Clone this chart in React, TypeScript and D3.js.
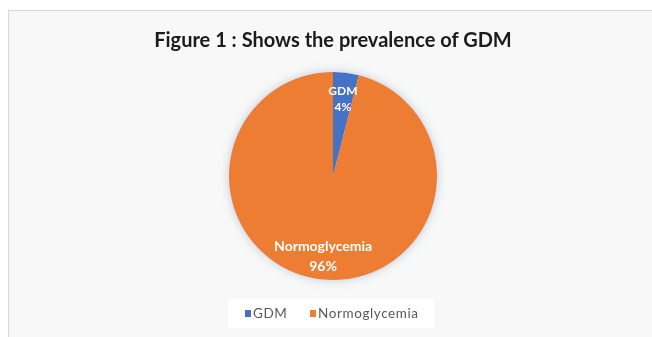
import React from "react";
import * as d3 from "d3";

const categories = ["GDM", "Normoglycemia"];
const values = [4, 96];
const colors = ["#4472C4", "#ED7D31"];
const title = "Figure 1 : Shows the prevalence of GDM";

const W = 652;
const H = 337;

export default function App() {
  const cx = 333;
  const cy = 176;
  const r = 104;

  const pie = d3.pie<number>().sort(null).value((d) => d);
  const arcs = pie(values);
  const arcGen = d3.arc<d3.PieArcDatum<number>>().innerRadius(0).outerRadius(r);

  // label positions: GDM near the rim, Normoglycemia lower in its slice
  const labelArcs = [
    d3.arc<d3.PieArcDatum<number>>().innerRadius(r * 0.76).outerRadius(r * 0.76),
    d3.arc<d3.PieArcDatum<number>>().innerRadius(r * 0.76).outerRadius(r * 0.76),
  ];

  const legendItems = [
    { x: 245, w: 36 },
    { x: 310, w: 118 },
  ];

  return (
    <svg
      width={W}
      height={H}
      style={{ position: "fixed", left: 0, top: 0, display: "block" }}
      fontFamily="Lato, 'Open Sans', sans-serif"
    >
      <defs>
        <filter id="pieShadow" x="-30%" y="-30%" width="160%" height="160%">
          <feGaussianBlur in="SourceAlpha" stdDeviation="5" result="blur" />
          <feFlood floodColor="#b8c6d6" floodOpacity="0.9" />
          <feComposite in2="blur" operator="in" result="shadow" />
          <feMerge>
            <feMergeNode in="shadow" />
            <feMergeNode in="SourceGraphic" />
          </feMerge>
        </filter>
        <filter id="soft">
          <feGaussianBlur stdDeviation="0.4" />
        </filter>
      </defs>
      <rect x={0} y={0} width={W} height={H} fill="#ffffff" />
      <rect x={8.5} y={10.5} width={W + 10} height={H} fill="#f8f8f8" stroke="#d9d9d9" strokeWidth={1} />

      <g filter="url(#soft)">
        <text
          x={333}
          y={47}
          textAnchor="middle"
          fontSize={20}
          fontWeight={700}
          fill="#1a1a1a"
        >
          {title}
        </text>

        <g transform={`translate(${cx},${cy})`} filter="url(#pieShadow)">
          {arcs.map((a, i) => (
            <path key={categories[i]} d={arcGen(a) || ""} fill={colors[i]} />
          ))}
        </g>

        <g transform={`translate(${cx},${cy})`}>
          {arcs.map((a, i) => {
            const [lx, ly] = labelArcs[i].centroid(a);
            return (
              <text
                key={categories[i]}
                x={lx}
                y={ly}
                textAnchor="middle"
                fill="#ffffff"
                fontWeight={700}
                fontSize={i === 0 ? 12 : 14}
              >
                <tspan x={lx} dy="-0.25em">{categories[i]}</tspan>
                <tspan x={lx} dy="1.4em">{values[i]}%</tspan>
              </text>
            );
          })}
        </g>

        <rect x={228} y={299} width={206} height={29} fill="#ffffff" />
        {categories.map((c, i) => (
          <g key={c} transform={`translate(${legendItems[i].x},313)`}>
            <rect x={0} y={-3} width={6} height={7} fill={colors[i]} />
            <text x={8} y={4.5} fontSize={13.5} letterSpacing={0.6} fill="#595959">
              {c}
            </text>
          </g>
        ))}
      </g>
    </svg>
  );
}
